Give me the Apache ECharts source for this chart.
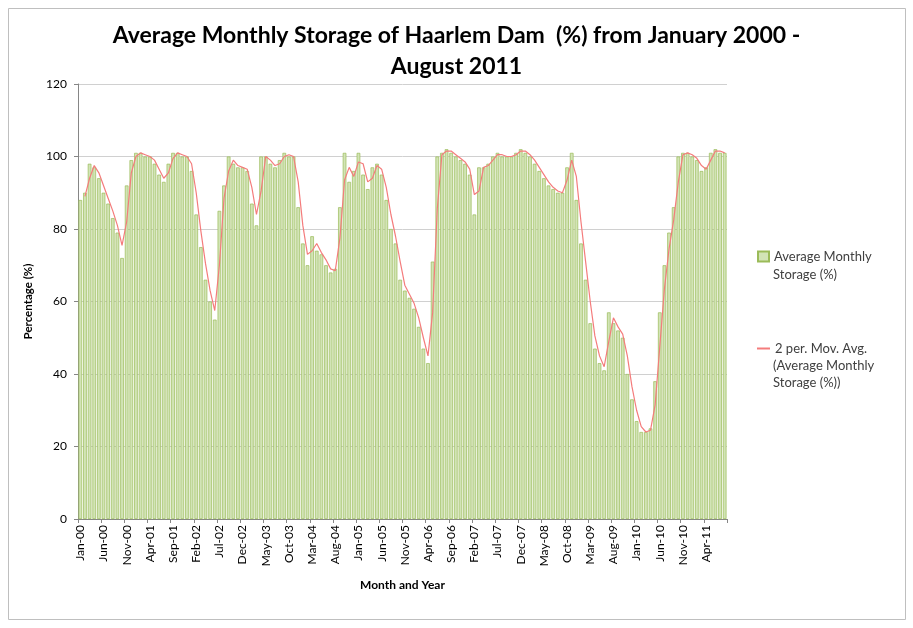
<!DOCTYPE html>
<html>
<head>
<meta charset="utf-8">
<script src="https://cdn.jsdelivr.net/npm/echarts@6/dist/echarts.min.js"></script>
<style>
html,body{margin:0;padding:0;background:#fff;}
#chart{width:913px;height:628px;}
</style>
</head>
<body>
<div id="chart"></div>
<script>
// Month names and years used to build category labels (Jan-00 .. Aug-11)
const MONTHS = ['Jan','Feb','Mar','Apr','May','Jun','Jul','Aug','Sep','Oct','Nov','Dec'];
const START_YEAR = 2000;
const MONTH_COUNT = 140;

// Average Monthly Storage (%), Jan-2000 .. Aug-2011
const storage2000 = [88, 90, 98, 97, 94, 90, 87, 83, 79, 72, 92, 99];
const storage2001 = [101, 101, 100, 100, 98, 95, 93, 98, 101, 101, 100, 100];
const storage2002 = [96, 84, 75, 66, 60, 55, 85, 92, 100, 98, 97, 97];
const storage2003 = [96, 87, 81, 100, 100, 98, 97, 99, 101, 100, 100, 86];
const storage2004 = [76, 70, 78, 74, 73, 70, 68, 69, 86, 101, 93, 96];
const storage2005 = [101, 95, 91, 97, 98, 95, 88, 80, 76, 66, 63, 61];
const storage2006 = [58, 53, 47, 43, 71, 100, 101, 102, 101, 100, 99, 98];
const storage2007 = [95, 84, 97, 97, 98, 100, 101, 100, 100, 100, 101, 102];
const storage2008 = [101, 100, 98, 96, 94, 92, 91, 90, 90, 97, 101, 88];
const storage2009 = [76, 66, 54, 47, 43, 41, 57, 54, 52, 50, 40, 33];
const storage2010 = [27, 24, 24, 25, 38, 57, 70, 79, 86, 100, 101, 101];
const storage2011 = [100, 99, 96, 97, 101, 102, 101, 101];

// Y axis tick labels
const yTicks = [0, 20, 40, 60, 80, 100, 120];

const seriesBarName = 'Average Monthly Storage (%)';
const seriesLineName = '2 per. Mov. Avg. (Average Monthly Storage (%))';

const storage = [].concat(storage2000, storage2001, storage2002, storage2003, storage2004,
  storage2005, storage2006, storage2007, storage2008, storage2009, storage2010, storage2011);

const categories = [];
for (let i = 0; i < MONTH_COUNT; i++) {
  const y = START_YEAR + Math.floor(i / 12);
  categories.push(MONTHS[i % 12] + '-' + String(y % 100).padStart(2, '0'));
}

// 2-period moving average trendline of the storage series (as defined by the chart)
const movAvg = storage.map((v, i) => i === 0 ? '-' : (storage[i - 1] + v) / 2);

const FONT = 'Lato, "Open Sans", sans-serif';
const LEG_TEXT = {fontFamily: FONT, fontSize: 13, fill: '#404040'};

const chart = echarts.init(document.getElementById('chart'), null, {renderer: 'canvas'});
chart.setOption({
  backgroundColor: '#ffffff',
  animation: false,
  textStyle: {fontFamily: FONT},
  title: {
    text: 'Average Monthly Storage of Haarlem Dam  (%) from January 2000 -\nAugust 2011',
    left: 'center',
    top: 15,
    textStyle: {fontFamily: FONT, fontSize: 23, fontWeight: 'bold', color: '#000', lineHeight: 31}
  },
  graphic: [{
    type: 'rect',
    shape: {x: 8.5, y: 8.5, width: 897, height: 611},
    style: {fill: 'none', stroke: '#bfbfbf', lineWidth: 1},
    silent: true
  }, {
    type: 'text', left: 773, top: 268, silent: true,
    style: Object.assign({text: 'Storage (%)'}, LEG_TEXT)
  }, {
    type: 'text', left: 773, top: 359, silent: true,
    style: Object.assign({text: '(Average Monthly'}, LEG_TEXT)
  }, {
    type: 'text', left: 773, top: 376, silent: true,
    style: Object.assign({text: 'Storage (%))'}, LEG_TEXT)
  }],
  legend: [{
    orient: 'vertical',
    left: 757,
    top: 250,
    padding: 0,
    itemWidth: 11,
    itemHeight: 10,
    itemGap: 4,
    data: [{name: seriesBarName, icon: 'rect'}],
    formatter: () => 'Average Monthly',
    textStyle: {fontFamily: FONT, fontSize: 13, color: '#404040'}
  }, {
    orient: 'vertical',
    left: 757,
    top: 342,
    padding: 0,
    itemWidth: 13,
    itemHeight: 2,
    itemGap: 4,
    data: [{name: seriesLineName, icon: 'rect'}],
    formatter: () => '2 per. Mov. Avg.',
    textStyle: {fontFamily: FONT, fontSize: 13, color: '#404040'}
  }],
  grid: {left: 78, top: 84, width: 649, height: 435, containLabel: false},
  xAxis: {
    type: 'category',
    data: categories,
    name: 'Month and Year',
    nameLocation: 'middle',
    nameGap: 60,
    nameTextStyle: {fontFamily: FONT, fontSize: 12, fontWeight: 'bold', color: '#000'},
    axisLine: {lineStyle: {color: '#868686'}},
    axisTick: {show: true, interval: 4, alignWithLabel: false, length: 4, lineStyle: {color: '#868686'}},
    axisLabel: {interval: 4, rotate: 90, fontFamily: FONT, fontSize: 12, color: '#000', margin: 6},
    splitLine: {show: false}
  },
  yAxis: {
    type: 'value',
    min: yTicks[0],
    max: yTicks[yTicks.length - 1],
    interval: 20,
    name: 'Percentage (%)',
    nameLocation: 'middle',
    nameGap: 44,
    nameRotate: 90,
    nameTextStyle: {fontFamily: FONT, fontSize: 11.5, fontWeight: 'bold', color: '#000'},
    axisLine: {show: true, lineStyle: {color: '#868686'}},
    axisTick: {show: true, length: 4, lineStyle: {color: '#868686'}},
    axisLabel: {fontFamily: FONT, fontSize: 12, color: '#000', margin: 11},
    splitLine: {show: true, lineStyle: {color: '#d0d0d0', width: 1}}
  },
  series: [{
    name: seriesBarName,
    type: 'bar',
    data: storage,
    barCategoryGap: '22%',
    itemStyle: {color: '#d2e4b6', borderColor: '#9bbb59', borderWidth: 0.7}
  }, {
    name: seriesLineName,
    type: 'line',
    data: movAvg,
    symbol: 'none',
    smooth: false,
    lineStyle: {color: '#f47c7c', width: 1.2},
    itemStyle: {color: '#f47c7c'}
  }]
});
</script>
</body>
</html>
